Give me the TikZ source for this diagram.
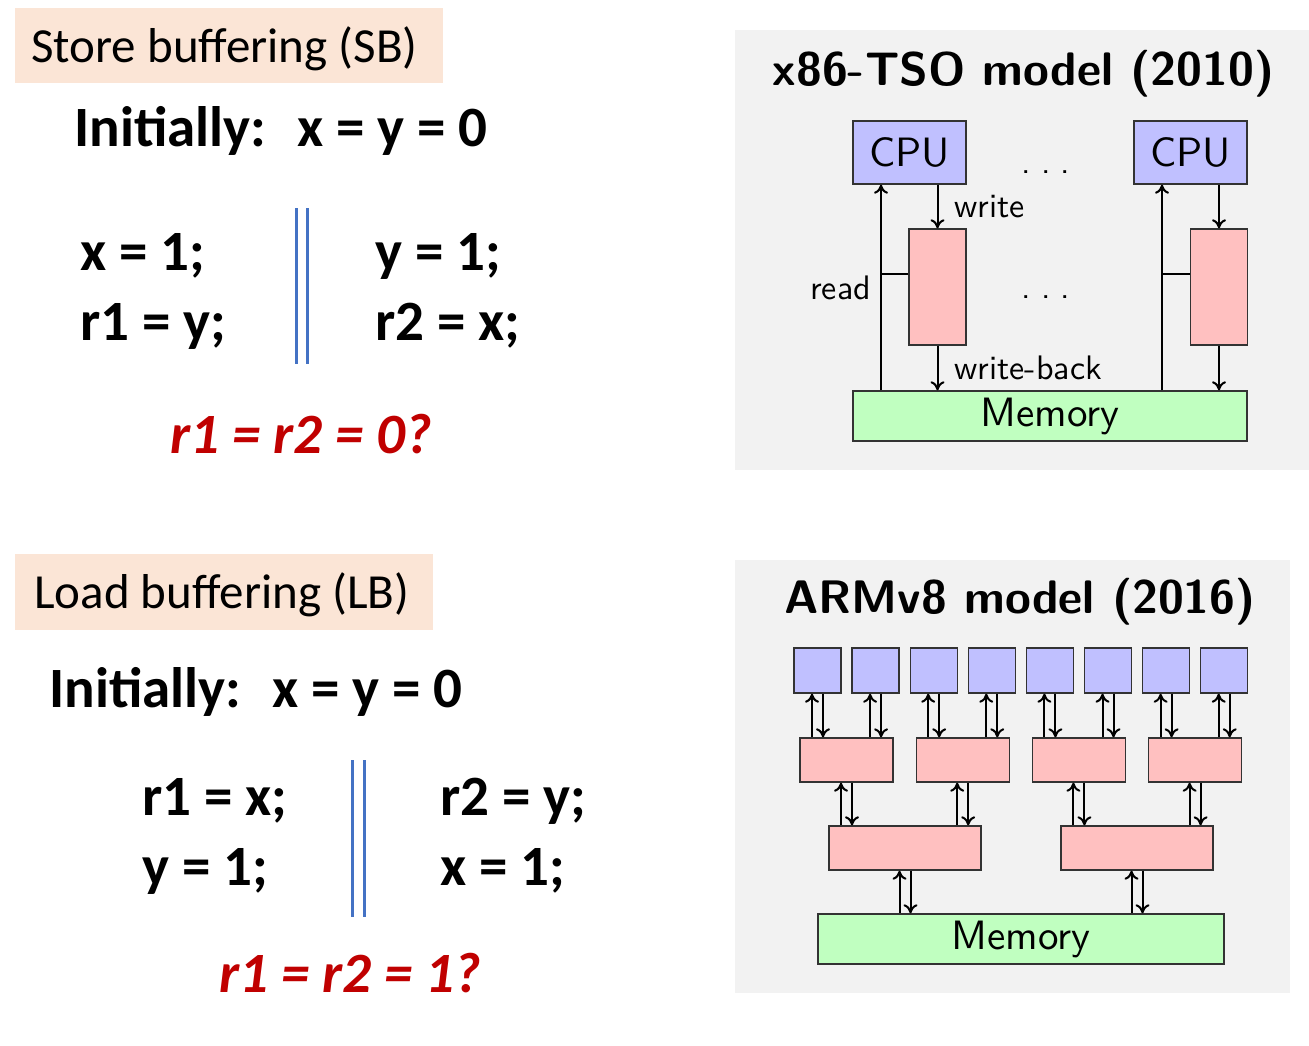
\documentclass[tikz,border=0pt]{standalone}
\usepackage{fontspec}
\setmainfont{Carlito}
\newfontfamily\modelfont{lmsans10-regular.otf}[BoldFont=lmsans10-bold.otf]
\usepackage{xcolor}
\usepackage{tikz}
\usetikzlibrary{positioning,calc,arrows.meta}
\definecolor{peach}{RGB}{251,229,214}
\definecolor{sepblue}{RGB}{68,114,196}
\definecolor{askred}{RGB}{192,0,0}
\definecolor{panelgray}{RGB}{242,242,242}
\definecolor{cpublue}{RGB}{192,192,255}
\definecolor{bufpink}{RGB}{255,192,192}
\definecolor{memgreen}{RGB}{192,255,192}

% pair of up/down arrows between an upper and a lower box
\newcommand{\linkpair}[2]{%
	\coordinate (lpUp) at ([xshift=-5.5pt]#1.south);
	\coordinate (lpDn) at ([xshift=5.5pt]#1.south);
	\draw[wire,<-] (lpUp) -- (lpUp |- #2.north);
	\draw[wire,->] (lpDn) -- (lpDn |- #2.north);
}

\begin{document}
\begin{tikzpicture}[
		x=1pt,y=-1pt,
		tag/.style={fill=peach, inner sep=0, anchor=north west},
		tagtext/.style={font=\fontsize{49}{59}\selectfont, inner sep=0, anchor=base west},
		prog/.style={font=\bfseries\fontsize{57}{68}\selectfont, inner sep=0, anchor=base west},
		ask/.style={font=\bfseries\itshape\fontsize{57}{68}\selectfont, text=askred, inner sep=0, anchor=base west},
		sep/.style={sepblue, line width=3pt},
		title/.style={font=\modelfont\bfseries\fontsize{47}{56}\selectfont, inner sep=0, anchor=base},
		box/.style={draw=black!80, line width=1.4pt, inner sep=0},
		cpu/.style={box, fill=cpublue, font=\modelfont\fontsize{41}{49}\selectfont},
		buf/.style={box, fill=bufpink},
		memory/.style={box, fill=memgreen, font=\modelfont\fontsize{41}{49}\selectfont},
		lbl/.style={font=\modelfont\fontsize{34}{40}\selectfont, inner sep=0},
		wire/.style={draw=black, line width=2pt},
		>={Computer Modern Rightarrow[length=9pt,width=14pt]}
		]
		\useasboundingbox (0,0) rectangle (1309,1045);
		\fill[white] (0,0) rectangle (1309,1045);
		
		% ====== STORE BUFFERING ======
		\node[tag, minimum width=428pt, minimum height=75pt] (sbtag) at (15,8) {};
		\node[tagtext] (sbname) at (31,62) {Store buffering (SB)};
		\node[prog] (sbinit) at (74,146) {Initially:\hspace{31pt}x = y = 0};
		\node[prog] (sbA1) at (80,270) {x = 1;};
		\node[prog] (sbA2) at (80,340) {r1 = y;};
		\node[prog] (sbB1) at (375,270) {y = 1;};
		\node[prog] (sbB2) at (375,340) {r2 = x;};
		\draw[sep] (296,208) -- (296,364);
		\draw[sep] (307,208) -- (307,364);
		\node[ask] (sbq) at (170,453) {r1 = r2 = 0?};
		
		% ====== LOAD BUFFERING ======
		\node[tag, minimum width=418pt, minimum height=76pt] (lbtag) at (15,554) {};
		\node[tagtext] (lbname) at (34,608) {Load buffering (LB)};
		\node[prog] (lbinit) at (49,707) {Initially:\hspace{31pt}x = y = 0};
		\node[prog] (lbA1) at (142,815) {r1 = x;};
		\node[prog] (lbA2) at (142,885) {y = 1;};
		\node[prog] (lbB1) at (440,815) {r2 = y;};
		\node[prog] (lbB2) at (440,885) {x = 1;};
		\draw[sep] (352,760) -- (352,917);
		\draw[sep] (364,760) -- (364,917);
		\node[ask] (lbq) at (219,992) {r1 = r2 = 1?};
		
		% ====== x86-TSO ======
		\fill[panelgray] (735,30) rectangle (1309,470);
		\node[title] (tsotitle) at (1023.5,85) {x86-TSO model (2010)};
		\node[cpu, minimum width=113pt, minimum height=63pt] (cpuL) at (909.5,152.5) {CPU};
		\node[cpu, minimum width=113pt, minimum height=63pt] (cpuR) at (1190.5,152.5) {CPU};
		\node[buf, minimum width=57pt, minimum height=116pt] (bufL) at (937.5,287) {};
		\node[buf, minimum width=57pt, minimum height=116pt] (bufR) at (1219,287) {};
		\node[memory, minimum width=394pt, minimum height=50pt] (mem) at (1050,416) {Memory};
		\node[lbl] (dotsTop) at (1046,172) {.\hspace{10pt}.\hspace{10pt}.};
		\node[lbl] (dotsMid) at (1046,297) {.\hspace{10pt}.\hspace{10pt}.};
		
		\coordinate (rdL) at ([xshift=-28.5pt]cpuL.south);
		\coordinate (rdR) at ([xshift=-28.5pt]cpuR.south);
		\draw[wire,->] (rdL |- mem.north) -- node[lbl, left=9pt] {read} (rdL);
		\draw[wire] ([yshift=13pt]bufL.west) -- ([yshift=13pt]bufL.west -| rdL);
		\draw[wire,->] (cpuL.south -| bufL.north) -- node[lbl, right=16pt] {write} (bufL.north);
		\draw[wire,->] (bufL.south) -- node[lbl, right=16pt] {write-back} (bufL.south |- mem.north);
		
		\draw[wire,->] (rdR |- mem.north) -- (rdR);
		\draw[wire] ([yshift=13pt]bufR.west) -- ([yshift=13pt]bufR.west -| rdR);
		\draw[wire,->] (cpuR.south -| bufR.north) -- (bufR.north);
		\draw[wire,->] (bufR.south) -- (bufR.south |- mem.north);
		
		% ====== ARMv8 ======
		\fill[panelgray] (735,560) rectangle (1290,993);
		\node[title] (armtitle) at (1020,613) {ARMv8 model (2016)};
		\foreach \i in {0,...,7}
		\node[cpu, minimum width=47pt, minimum height=45pt] (core\i) at ({817.5+58.1*\i},670.5) {};
		\foreach \j in {0,...,3}
		\node[buf, minimum width=93pt, minimum height=44pt] (pair\j) at ({846.5+116.2*\j},760) {};
		\node[buf, minimum width=152pt, minimum height=44pt] (quad0) at (905,848) {};
		\node[buf, minimum width=152pt, minimum height=44pt] (quad1) at (1137,848) {};
		\node[memory, minimum width=406pt, minimum height=50pt] (memA) at (1021,939) {Memory};
		
		\foreach \i in {0,...,7}{
			\pgfmathtruncatemacro{\j}{\i/2}
			\linkpair{core\i}{pair\j}
		}
		\foreach \j in {0,...,3}{
			\pgfmathtruncatemacro{\k}{\j/2}
			\linkpair{pair\j}{quad\k}
		}
		\linkpair{quad0}{memA}
		\linkpair{quad1}{memA}
		
\end{tikzpicture}
\end{document}
